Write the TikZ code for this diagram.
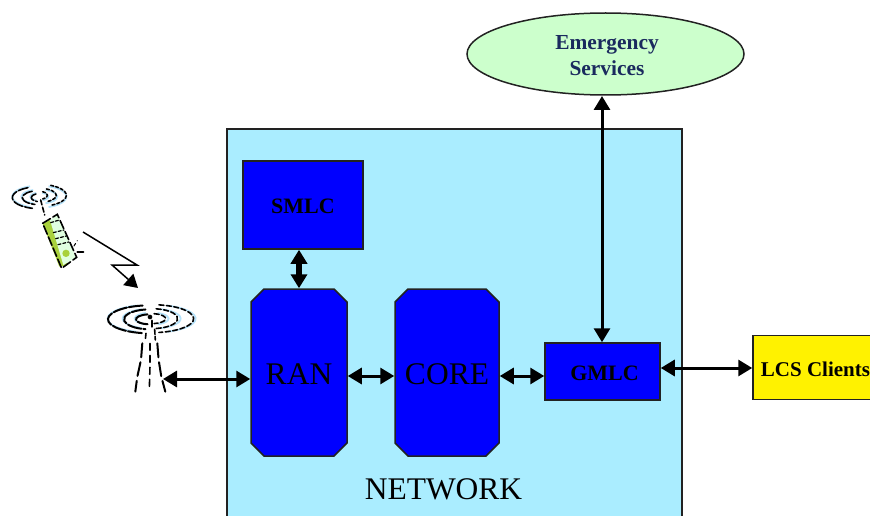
\documentclass[tikz,border=0pt]{standalone}
\usepackage{fontspec}
\setmainfont{Liberation Serif}
\usetikzlibrary{arrows.meta,shapes.geometric,shapes.misc}
\definecolor{netbg}{HTML}{AAEDFF}
\definecolor{boxblue}{HTML}{0000FF}
\definecolor{ellfill}{HTML}{CCFFCC}
\definecolor{navytext}{HTML}{1A2A5E}
\definecolor{edgegray}{HTML}{222222}
\definecolor{haloblue}{HTML}{B5E2FA}
\definecolor{phonegreen}{HTML}{A9D13C}
\tikzset{
  x=1pt,y=-1pt,
  box/.style={draw=edgegray,line width=1.5pt,fill=boxblue,inner sep=0pt,text=black},
  boldbox/.style={box,font=\fontsize{22}{24}\selectfont\bfseries},
  bigbox/.style={box,chamfered rectangle,chamfered rectangle xsep=6.5pt,chamfered rectangle ysep=6.5pt,font=\fontsize{31.5}{34}\selectfont,text height=23pt,text depth=0pt},
  link/.style={line width=3pt,{Triangle[length=14pt,width=16pt]}-{Triangle[length=14pt,width=16pt]}},
  thicklink/.style={line width=5.5pt,{Triangle[length=14pt,width=16pt]}-{Triangle[length=14pt,width=16pt]}},
  halo/.style={draw=haloblue,line width=1.8pt},
  ink/.style={draw=black,line width=1.6pt,line cap=round},
  dashink/.style={ink,dash pattern=on 7pt off 2.5pt}
}
\begin{document}
\begin{tikzpicture}
\useasboundingbox (0,0) rectangle (870,516);
% network background
\fill[netbg] (227,129) rectangle (682,516);
\draw[edgegray,line width=1.5pt] (227,516) -- (227,129) -- (682,129) -- (682,516);
\node[font=\fontsize{31.5}{34}\selectfont] (net) at (443.5,489) {NETWORK};
% boxes
\node[boldbox,minimum width=120pt,minimum height=88pt,text height=17pt,text depth=0pt] (smlc) at (303,205) {SMLC};
\node[bigbox,minimum width=96pt,minimum height=167pt] (ran) at (299,372.5) {RAN};
\node[bigbox,minimum width=104pt,minimum height=167pt] (core) at (447,372.5) {CORE};
\node[boldbox,minimum width=115pt,minimum height=57pt,text height=17pt,text depth=0pt] (gmlc) at (602.5,371.5) {\hspace*{4pt}GMLC};
\node[draw=edgegray,line width=1.5pt,fill=yellow,inner sep=0pt,minimum width=120pt,minimum height=64pt,font=\fontsize{21}{23}\selectfont\bfseries,text=black,text height=18pt,text depth=0pt] (lcs) at (813,367.5) {\hspace*{5pt}LCS Clients};
\node[ellipse,draw=edgegray,line width=1.5pt,fill=ellfill,inner sep=0pt,minimum width=277pt,minimum height=82pt,align=center,text=navytext,font=\fontsize{21.4}{26}\selectfont\bfseries] (emer) at (605.5,54) {\rule{0pt}{17pt}\hspace*{3pt}Emergency\\\hspace*{3pt}Services};
% connectors
\coordinate (towerport) at (163,379);
\draw[link] (towerport) -- (towerport -| ran.west);
\draw[link] ([yshift=-3.5pt]ran.east) -- ([yshift=-3.5pt]core.west);
\draw[link] ([yshift=-3.5pt]core.east) -- ([yshift=-4.5pt]gmlc.west);
\draw[link] ([yshift=3.5pt]gmlc.east) -- ([yshift=3.5pt]gmlc.east -| lcs.west);
\coordinate (emerport) at (602,96);
\draw[link] (gmlc.north -| emerport) -- (emerport);
\draw[thicklink] (smlc.south -| ran.north) -- (ran.north);
% wireless bolt
\coordinate (bolta) at (83,232);
\coordinate (boltb) at (137,265);
\coordinate (boltc) at (112,265);
\coordinate (boltd) at (138,288);
\draw[line width=1.5pt,-{Triangle[length=13pt,width=15pt]}] (bolta) -- (boltb) -- (boltc) -- (boltd);
% handset icon
\begin{scope}[shift={(0,170)},x=0.3333pt,y=-0.3333pt]
  \fill[phonegreen] (128,162) -- (150,150) -- (205,285) -- (178,290) -- cycle;
  \fill[white!88!green] (150,150) -- (172,135) -- (228,262) -- (190,285) -- cycle;
  \fill[phonegreen] (198,250) circle (11);
  \draw[ink,dash pattern=on 9pt off 3pt] (128,160) -- (172,133) -- (230,262) -- (185,295) -- cycle;
  \draw[ink,line width=1.2pt,dash pattern=on 3pt off 2pt] (152,158) -- (178,150);
  \foreach \k in {0,1,2}{\draw[ink,line width=1.2pt,dash pattern=on 3pt off 2pt] (160+\k*7,188+\k*18) -- (192+\k*7,180+\k*18);}
  \draw[ink,line width=2pt] (232,246) -- (250,246);
  \draw[ink,line width=1pt,dash pattern=on 3pt off 3pt] (222,228) -- (232,212);
  \draw[dashink,dash pattern=on 5pt off 2.5pt] (122,90) -- (134,135);
  \foreach \r/\s in {9/4,18/7,27/11}{
    \draw[halo] (118,80) +(110:\r pt and \s pt) arc[start angle=110,end angle=250,x radius=\r pt,y radius=\s pt];
    \draw[halo] (118,80) +(70:\r pt and \s pt) arc[start angle=70,end angle=-70,x radius=\r pt,y radius=\s pt];
  }
  \foreach \r/\s in {8/4,17/7,27/11}{
    \draw[dashink,dash pattern=on 10pt off 2pt] (118,83) +(115:\r pt and \s pt) arc[start angle=115,end angle=255,x radius=\r pt,y radius=\s pt];
    \draw[dashink,dash pattern=on 3pt off 2pt] (118,76) +(65:\r pt and \s pt) arc[start angle=65,end angle=-65,x radius=\r pt,y radius=\s pt];
  }
\end{scope}
% tower icon
\begin{scope}[shift={(0,170)},x=0.3333pt,y=-0.3333pt]
  \foreach \r/\s in {17/6,29/10,44/14}{
    \draw[halo] (455,446) +(110:\r pt and \s pt) arc[start angle=110,end angle=250,x radius=\r pt,y radius=\s pt];
    \draw[halo] (455,446) +(70:\r pt and \s pt) arc[start angle=70,end angle=-70,x radius=\r pt,y radius=\s pt];
  }
  \foreach \r/\s in {14/5,26/10,42/14}{
    \draw[dashink,line width=2pt,dash pattern=on 14pt off 2pt] (450,448) +(100:\r pt and \s pt) arc[start angle=100,end angle=260,x radius=\r pt,y radius=\s pt];
    \draw[dashink,dash pattern=on 5pt off 2.5pt] (455,446) +(80:\r pt and \s pt) arc[start angle=80,end angle=-80,x radius=\r pt,y radius=\s pt];
  }
  \fill (450,441) circle (7);
  \draw[ink,line width=2.4pt] (456,452) -- (456,470);
  \draw[ink,dash pattern=on 5pt off 2pt] (438,490) -- (436,510) (464,478) -- (466,510);
  \draw[ink,line width=2pt,dash pattern=on 14pt off 5pt] (427,520) -- (423,570) -- (412,620) -- (406,665);
  \draw[ink,line width=2pt,dash pattern=on 14pt off 5pt] (472,520) -- (476,570) -- (484,620) -- (496,665);
  \draw[ink,dash pattern=on 7pt off 5pt] (450,520) -- (450,590) -- (448,660);
\end{scope}
\end{tikzpicture}
\end{document}
